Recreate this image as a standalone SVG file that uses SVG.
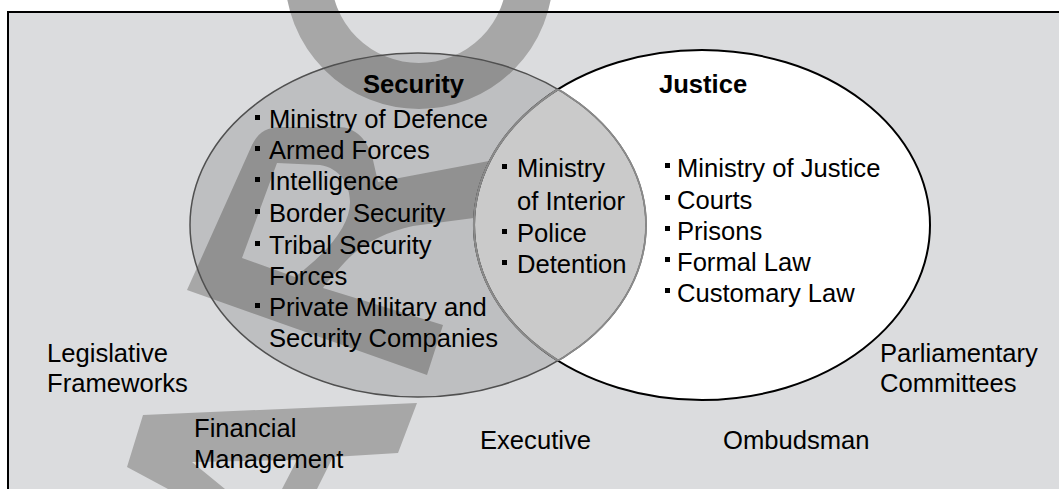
<svg xmlns="http://www.w3.org/2000/svg" width="1059" height="489" viewBox="0 0 1059 489">
<defs>
<style>
.t{font-family:"Liberation Sans",Arial,sans-serif;font-size:25.6px;fill:#000}
.b{font-weight:bold}
.wm{fill:#A7A7A7}
.bul{fill:#000}
</style>
<clipPath id="clipSec"><ellipse cx="418" cy="225" rx="228" ry="172"/></clipPath>
<clipPath id="clipJus"><ellipse cx="702" cy="225" rx="228" ry="175"/></clipPath>
</defs>
<rect x="0" y="0" width="1059" height="489" fill="#FFFFFF"/>
<rect x="8" y="12" width="1100" height="500" fill="#DBDCDE"/>
<g id="watermark">
<circle cx="419" cy="-25" r="111" fill="none" stroke="#A7A7A7" stroke-width="46"/>
<path class="wm" fill-rule="evenodd" d="M187,290 L252,145 C258,133 266,127 282,127 L338,127 C356,127 368,140 373,160 L378,182 L520,155 L520,212 L413,226 C385,232 360,245 345,262 C335,273 328,281 323,288 L443,325 L427,375 Z M242,258 L277,163 L320,165 C340,168 350,185 350,202 C350,225 330,250 295,277 Z"/>
<path class="wm" d="M143,415 L417,403 L398,453 L333,457 L317,489 L282,489 L297,460 L192,462 L225,489 L168,489 L127,467 Z"/>
</g>
<rect x="8" y="12" width="1100" height="500" fill="none" stroke="#000" stroke-width="2"/>
<g id="connectors"/>
<g id="justice">
<ellipse cx="702" cy="225" rx="228" ry="175" fill="#FFFFFF" stroke="#000" stroke-width="2"/>
</g>
<g id="security">
<ellipse cx="418" cy="225" rx="228" ry="172" fill="#000" fill-opacity="0.13" stroke="#505050" stroke-width="1.5"/>
<ellipse cx="702" cy="225" rx="228" ry="175" fill="#000" fill-opacity="0.09" stroke="#8A8A8A" stroke-width="2.2" clip-path="url(#clipSec)"/>
<ellipse cx="418" cy="225" rx="228" ry="172" fill="none" stroke="#8A8A8A" stroke-width="1.8" clip-path="url(#clipJus)"/>
</g>
<g id="security-text">
<text class="t b" x="363" y="93">Security</text>
<rect class="bul" x="255" y="115" width="5" height="5"/>
<text class="t" x="269" y="128">Ministry of Defence</text>
<rect class="bul" x="255" y="146" width="5" height="5"/>
<text class="t" x="269" y="159">Armed Forces</text>
<rect class="bul" x="255" y="177" width="5" height="5"/>
<text class="t" x="269" y="190">Intelligence</text>
<rect class="bul" x="255" y="209" width="5" height="5"/>
<text class="t" x="269" y="222">Border Security</text>
<rect class="bul" x="255" y="241" width="5" height="5"/>
<text class="t" x="269" y="254">Tribal Security</text>
<text class="t" x="269" y="285">Forces</text>
<rect class="bul" x="255" y="303" width="5" height="5"/>
<text class="t" x="269" y="316">Private Military and</text>
<text class="t" x="269" y="347">Security Companies</text>
</g>
<g id="overlap">
<rect class="bul" x="502" y="164" width="5" height="5"/>
<text class="t" x="517" y="177">Ministry</text>
<text class="t" x="517" y="210">of Interior</text>
<rect class="bul" x="502" y="229" width="5" height="5"/>
<text class="t" x="517" y="242">Police</text>
<rect class="bul" x="502" y="260" width="5" height="5"/>
<text class="t" x="517" y="273">Detention</text>
</g>
<g id="justice-text">
<text class="t b" x="659" y="93">Justice</text>
<rect class="bul" x="665" y="163" width="5" height="5"/>
<text class="t" x="677" y="177">Ministry of Justice</text>
<rect class="bul" x="665" y="195" width="5" height="5"/>
<text class="t" x="677" y="209">Courts</text>
<rect class="bul" x="665" y="226" width="5" height="5"/>
<text class="t" x="677" y="240">Prisons</text>
<rect class="bul" x="665" y="257" width="5" height="5"/>
<text class="t" x="677" y="271">Formal Law</text>
<rect class="bul" x="665" y="288" width="5" height="5"/>
<text class="t" x="677" y="302">Customary Law</text>
</g>
<g id="legislative"><text class="t" x="47" y="362">Legislative</text><text class="t" x="47" y="392">Frameworks</text></g>
<g id="financial"><text class="t" x="194" y="437">Financial</text><text class="t" x="194" y="468">Management</text></g>
<g id="executive"><text class="t" x="480" y="449">Executive</text></g>
<g id="ombudsman"><text class="t" x="723" y="449">Ombudsman</text></g>
<g id="parliamentary"><text class="t" x="880" y="362">Parliamentary</text><text class="t" x="880" y="392">Committees</text></g>
</svg>
